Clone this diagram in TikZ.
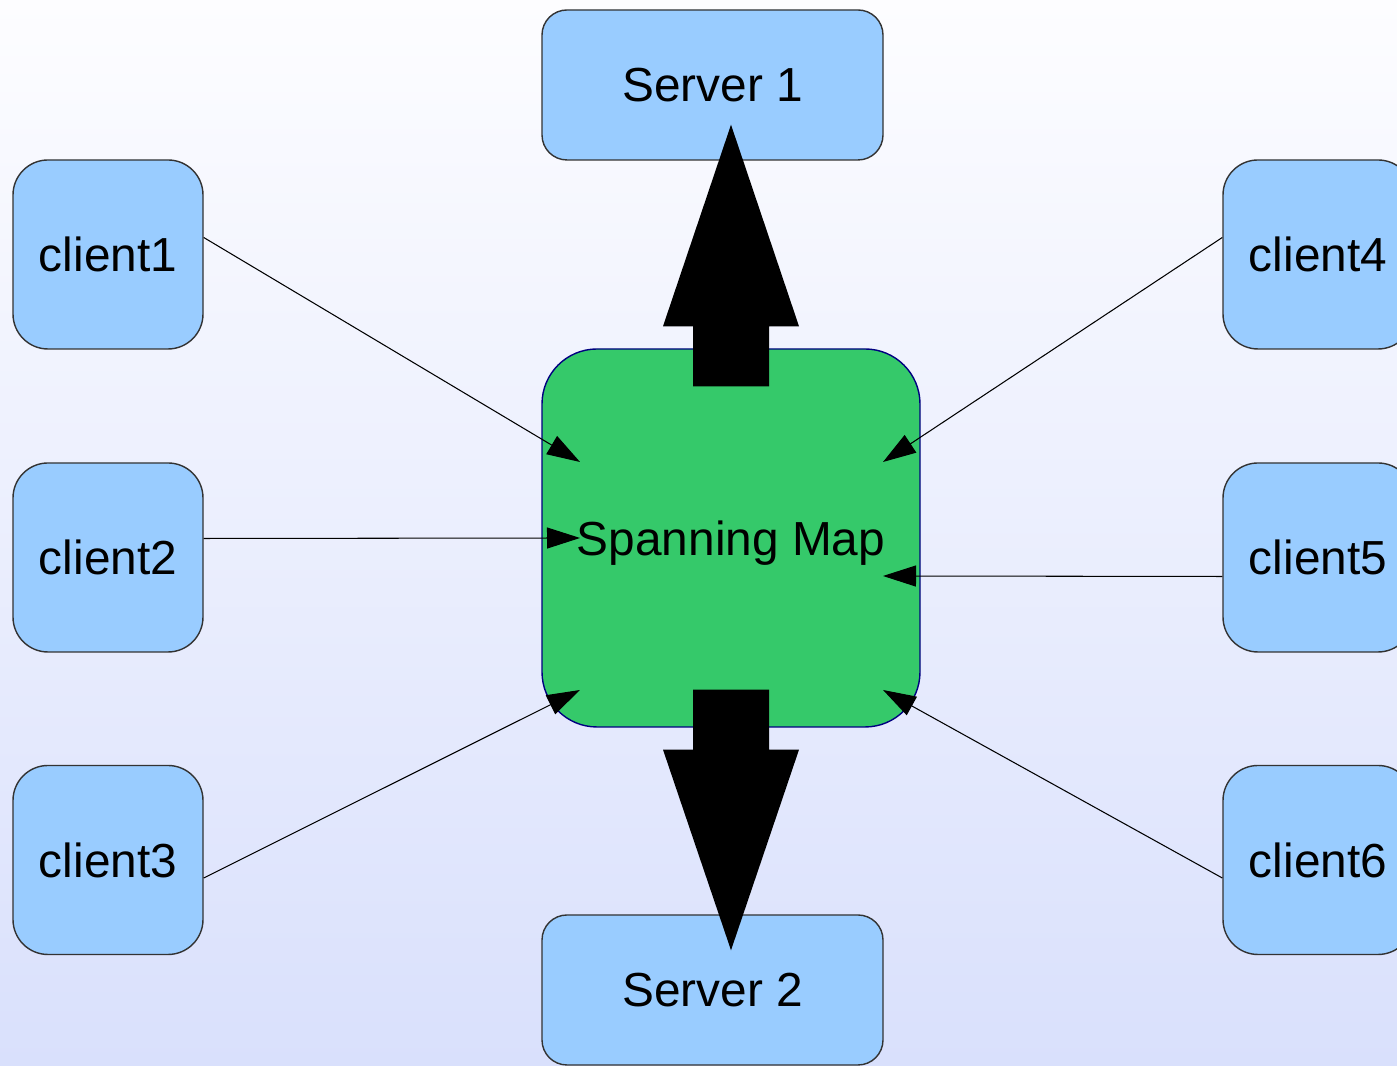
\documentclass[tikz,border=0pt]{standalone}
\usepackage{fontspec}
\setmainfont{Liberation Sans}
\usetikzlibrary{arrows.meta,calc}
\definecolor{boxblue}{RGB}{153,204,255}
\definecolor{mapgreen}{RGB}{53,201,106}
\definecolor{bgtop}{RGB}{253,253,255}
\definecolor{bgbottom}{RGB}{217,224,252}
\tikzset{
  client/.style={draw=black!80, fill=boxblue, rounded corners=0.35cm,
    minimum width=1.9cm, minimum height=1.89cm, inner sep=0pt},
  server/.style={draw=black!80, fill=boxblue, rounded corners=0.25cm,
    minimum width=3.41cm, minimum height=1.5cm, inner sep=0pt},
  link/.style={line width=0.3pt, -{Triangle[length=0.33cm, width=0.21cm]}},
}
\begin{document}
\begin{tikzpicture}[font=\fontsize{13.6}{16}\selectfont]
% sfondo
\shade[top color=bgtop, bottom color=bgbottom] (0, 0) rectangle (13.97, 10.66);
\useasboundingbox (0, 0) rectangle (13.97, 10.66);
% server
\node[server] (srv1) at (7.125, 9.81) {Server 1};
\node[server] (srv2) at (7.125, 0.76) {Server 2};
% mappa
\node[draw=blue!50!black, fill=mapgreen, rounded corners=0.55cm,
  minimum size=3.78cm, inner sep=0pt, text depth=0pt] (map) at (7.31, 5.28) {Spanning Map};
% client
\node[client] (c1) at (1.08, 8.115) {client1};
\node[client] (c2) at (1.08, 5.085) {client2};
\node[client] (c3) at (1.08, 2.06) {client3};
\node[client] (c4) at (13.18, 8.115) {client4};
\node[client] (c5) at (13.18, 5.085) {client5};
\node[client] (c6) at (13.18, 2.06) {client6};
% collegamenti
\draw[link] ([yshift=1.7mm]c1.east) -- ($(map)+(-1.51, 0.76)$);
\draw[link] ([yshift=1.9mm]c2.east) -- ($(map)+(-1.51, 0)$);
\draw[link] ([yshift=-1.8mm]c3.east) -- ($(map)+(-1.51, -1.52)$);
\draw[link] ([yshift=1.7mm]c4.west) -- ($(map)+(1.52, 0.76)$);
\draw[link] ([yshift=-1.9mm]c5.west) -- ($(map)+(1.52, -0.38)$);
\draw[link] ([yshift=-1.8mm]c6.west) -- ($(map)+(1.52, -1.52)$);
% frecce verso i server
\coordinate (up) at ($(map.north)+(0, -0.38)$);
\coordinate (uptip) at ($(map.north |- srv1.south)+(0, 0.36)$);
\fill (up) ++(-0.38, 0) -- ++(0, 0.6) -- ++(-0.3, 0) -- (uptip)
  -- ($(up)+(0.68, 0.6)$) -- ++(-0.3, 0) -- ++(0, -0.6) -- cycle;
\coordinate (down) at ($(map.south)+(0, 0.38)$);
\coordinate (downtip) at ($(map.south |- srv2.north)+(0, -0.36)$);
\fill (down) ++(-0.38, 0) -- ++(0, -0.6) -- ++(-0.3, 0) -- (downtip)
  -- ($(down)+(0.68, -0.6)$) -- ++(-0.3, 0) -- ++(0, 0.6) -- cycle;
\end{tikzpicture}
\end{document}
